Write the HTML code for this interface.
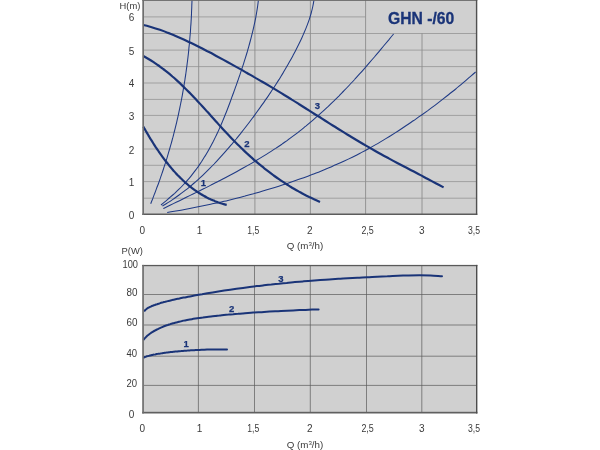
<!DOCTYPE html>
<html><head><meta charset="utf-8"><title>GHN -/60</title>
<style>html,body{margin:0;padding:0;background:#fff}body{width:600px;height:450px;overflow:hidden}svg{display:block}</style>
</head><body>
<svg width="600" height="450" viewBox="0 0 600 450" font-family="Liberation Sans, Arial, sans-serif">
<rect width="600" height="450" fill="#fff"/>
<rect x="143" y="0" width="334" height="214.5" fill="#d0d0d0"/>
<path d="M144,198.20H476 M144,181.60H476 M144,165.30H476 M144,149.00H476 M144,132.30H476 M144,115.40H476 M144,99.40H476 M144,83.00H476 M144,66.60H476 M144,50.10H476 M144,33.50H476 M144,16.90H365.5" stroke="#a0a0a0" stroke-width="1" fill="none"/>
<path d="M198.7,0V214.5 M254.9,0V214.5 M310.4,0V214.5 M365.6,0V214.5 M422.0,33.3V214.5" stroke="#8c8c8c" stroke-width="0.9" fill="none"/>
<path d="M150.7,203.7 C151.0,202.9 152.0,200.4 152.7,198.7 C153.3,197.1 154.0,195.4 154.6,193.7 C155.3,192.0 155.9,190.4 156.5,188.7 C157.1,187.0 157.8,185.3 158.4,183.7 C159.0,182.0 159.6,180.3 160.2,178.6 C160.8,176.9 161.3,175.2 161.9,173.6 C162.5,171.9 163.1,170.2 163.6,168.5 C164.2,166.8 164.7,165.1 165.3,163.4 C165.8,161.7 166.3,160.0 166.9,158.3 C167.4,156.5 167.9,154.8 168.4,153.1 C168.9,151.4 169.4,149.7 169.9,148.0 C170.4,146.3 170.9,144.5 171.4,142.8 C171.9,141.1 172.3,139.4 172.8,137.7 C173.2,135.9 173.7,134.2 174.1,132.5 C174.6,130.7 175.0,129.0 175.4,127.3 C175.9,125.5 176.3,123.8 176.7,122.1 C177.1,120.3 177.5,118.6 177.9,116.8 C178.3,115.1 178.7,113.4 179.0,111.6 C179.4,109.9 179.8,108.1 180.1,106.4 C180.5,104.6 180.8,102.9 181.2,101.1 C181.5,99.4 181.9,97.6 182.2,95.9 C182.5,94.1 182.8,92.3 183.1,90.6 C183.4,88.8 183.7,87.1 184.0,85.3 C184.3,83.5 184.6,81.8 184.9,80.0 C185.1,78.3 185.4,76.5 185.7,74.7 C185.9,73.0 186.2,71.2 186.4,69.4 C186.7,67.6 186.9,65.9 187.1,64.1 C187.3,62.3 187.6,60.6 187.8,58.8 C188.0,57.0 188.2,55.2 188.4,53.5 C188.6,51.7 188.8,49.9 188.9,48.1 C189.1,46.4 189.3,44.6 189.5,42.8 C189.6,41.0 189.8,39.2 189.9,37.5 C190.1,35.7 190.2,33.9 190.4,32.1 C190.5,30.3 190.6,28.6 190.7,26.8 C190.9,25.0 191.0,23.2 191.1,21.4 C191.2,19.6 191.3,17.9 191.4,16.1 C191.5,14.3 191.5,12.5 191.6,10.7 C191.7,8.9 191.8,7.1 191.8,5.4 C191.9,3.6 192.0,0.9 192.0,-0.0" stroke="#1f3a85" stroke-width="1.05" fill="none"/>
<path d="M161.0,205.0 C161.8,204.3 164.1,202.4 165.7,201.1 C167.2,199.8 168.7,198.6 170.2,197.2 C171.7,195.9 173.2,194.6 174.7,193.3 C176.1,192.0 177.6,190.6 179.0,189.2 C180.4,187.9 181.8,186.5 183.1,185.0 C184.5,183.6 185.8,182.2 187.1,180.7 C188.4,179.2 189.7,177.7 191.0,176.1 C192.2,174.6 193.4,173.0 194.6,171.4 C195.8,169.9 197.0,168.2 198.2,166.6 C199.3,165.0 200.4,163.3 201.5,161.7 C202.6,160.0 203.7,158.3 204.7,156.6 C205.8,155.0 206.8,153.3 207.8,151.5 C208.7,149.8 209.7,148.1 210.6,146.4 C211.6,144.6 212.5,142.9 213.4,141.2 C214.3,139.4 215.2,137.6 216.0,135.9 C216.9,134.1 217.7,132.3 218.5,130.6 C219.3,128.8 220.1,127.0 220.9,125.2 C221.7,123.4 222.4,121.6 223.2,119.8 C224.0,117.9 224.7,116.1 225.4,114.3 C226.2,112.5 226.9,110.6 227.6,108.8 C228.3,106.9 229.0,105.1 229.7,103.2 C230.4,101.4 231.1,99.5 231.7,97.6 C232.4,95.8 233.1,93.9 233.8,92.0 C234.5,90.2 235.1,88.3 235.8,86.4 C236.5,84.5 237.1,82.6 237.8,80.7 C238.5,78.8 239.1,76.9 239.8,75.0 C240.4,73.1 241.1,71.2 241.7,69.3 C242.3,67.4 243.0,65.5 243.6,63.6 C244.2,61.7 244.8,59.7 245.4,57.8 C246.0,55.9 246.6,54.0 247.2,52.0 C247.7,50.1 248.3,48.2 248.8,46.3 C249.4,44.3 249.9,42.4 250.4,40.5 C250.9,38.6 251.4,36.6 251.9,34.7 C252.4,32.8 252.9,30.8 253.3,28.9 C253.8,27.0 254.2,25.0 254.6,23.1 C255.0,21.2 255.4,19.3 255.8,17.3 C256.1,15.4 256.5,13.5 256.8,11.5 C257.1,9.6 257.4,7.7 257.7,5.8 C257.9,3.9 258.3,1.0 258.4,0.0" stroke="#1f3a85" stroke-width="1.05" fill="none"/>
<path d="M162.4,206.0 C163.4,205.4 166.3,203.6 168.3,202.4 C170.2,201.2 172.1,199.9 173.9,198.7 C175.8,197.4 177.6,196.1 179.4,194.8 C181.3,193.5 183.0,192.1 184.8,190.7 C186.5,189.4 188.3,188.0 190.0,186.6 C191.7,185.2 193.4,183.7 195.0,182.3 C196.7,180.8 198.3,179.4 199.9,177.9 C201.6,176.4 203.2,174.9 204.7,173.3 C206.3,171.8 207.9,170.3 209.5,168.7 C211.0,167.1 212.5,165.6 214.1,164.0 C215.6,162.4 217.1,160.8 218.6,159.1 C220.1,157.5 221.6,155.9 223.1,154.2 C224.6,152.6 226.1,150.9 227.5,149.2 C229.0,147.5 230.4,145.8 231.9,144.1 C233.3,142.4 234.7,140.7 236.2,139.0 C237.6,137.3 239.0,135.5 240.4,133.8 C241.8,132.0 243.2,130.3 244.5,128.5 C245.9,126.7 247.3,124.9 248.6,123.2 C250.0,121.4 251.4,119.6 252.7,117.8 C254.0,116.0 255.4,114.2 256.7,112.3 C258.0,110.5 259.3,108.7 260.6,106.9 C261.9,105.1 263.2,103.2 264.5,101.4 C265.8,99.6 267.0,97.7 268.3,95.9 C269.5,94.0 270.8,92.2 272.0,90.3 C273.3,88.5 274.5,86.6 275.7,84.7 C276.9,82.8 278.1,80.9 279.3,79.1 C280.5,77.2 281.6,75.3 282.8,73.4 C283.9,71.4 285.1,69.5 286.2,67.6 C287.3,65.7 288.4,63.7 289.5,61.8 C290.6,59.9 291.7,57.9 292.8,55.9 C293.8,54.0 294.9,52.0 295.9,50.0 C296.9,48.0 297.9,46.0 298.9,44.0 C299.9,42.0 300.9,40.0 301.8,38.0 C302.7,35.9 303.6,33.9 304.5,31.8 C305.4,29.8 306.2,27.7 307.0,25.6 C307.8,23.6 308.6,21.5 309.3,19.4 C310.0,17.2 310.6,15.1 311.2,13.0 C311.8,10.9 312.3,8.7 312.8,6.5 C313.3,4.4 313.8,1.1 314.0,0.0" stroke="#1f3a85" stroke-width="1.05" fill="none"/>
<path d="M163.3,208.6 C164.4,208.1 167.8,206.4 170.0,205.3 C172.2,204.2 174.5,203.1 176.7,202.0 C179.0,200.9 181.2,199.8 183.4,198.7 C185.7,197.6 187.9,196.5 190.2,195.4 C192.4,194.3 194.7,193.2 196.9,192.1 C199.2,191.0 201.4,189.9 203.6,188.8 C205.9,187.7 208.1,186.5 210.4,185.4 C212.6,184.3 214.8,183.1 217.1,182.0 C219.3,180.9 221.5,179.7 223.8,178.5 C226.0,177.4 228.2,176.2 230.4,175.0 C232.6,173.9 234.8,172.7 237.0,171.5 C239.2,170.3 241.4,169.1 243.6,167.8 C245.8,166.6 248.0,165.4 250.1,164.1 C252.3,162.9 254.5,161.6 256.6,160.3 C258.8,159.0 260.9,157.7 263.0,156.4 C265.2,155.1 267.3,153.8 269.4,152.4 C271.5,151.1 273.6,149.7 275.7,148.4 C277.7,147.0 279.8,145.6 281.9,144.2 C283.9,142.7 286.0,141.3 288.0,139.8 C290.0,138.4 292.0,136.9 294.0,135.4 C296.0,133.9 298.0,132.4 299.9,130.8 C301.9,129.3 303.8,127.7 305.8,126.1 C307.7,124.5 309.6,122.9 311.5,121.3 C313.4,119.7 315.3,118.0 317.2,116.4 C319.1,114.7 320.9,113.1 322.8,111.4 C324.6,109.7 326.5,108.0 328.3,106.3 C330.1,104.5 331.9,102.8 333.7,101.1 C335.5,99.3 337.3,97.5 339.1,95.8 C340.8,94.0 342.6,92.2 344.3,90.4 C346.1,88.6 347.8,86.8 349.5,85.0 C351.2,83.2 352.9,81.3 354.6,79.5 C356.3,77.6 358.0,75.8 359.6,73.9 C361.3,72.1 363.0,70.2 364.6,68.3 C366.3,66.5 367.9,64.6 369.5,62.7 C371.1,60.8 372.7,58.9 374.4,57.0 C376.0,55.1 377.6,53.2 379.2,51.3 C380.8,49.4 382.4,47.4 384.0,45.5 C385.6,43.6 387.2,41.7 388.8,39.8 C390.4,37.8 392.8,34.9 393.6,34.0" stroke="#1f3a85" stroke-width="1.05" fill="none"/>
<path d="M167.2,212.4 C168.6,212.2 173.0,211.5 175.9,211.0 C178.8,210.5 181.7,210.0 184.6,209.4 C187.5,208.9 190.4,208.4 193.3,207.8 C196.2,207.3 199.1,206.7 202.0,206.1 C204.9,205.5 207.8,204.9 210.6,204.3 C213.5,203.7 216.4,203.0 219.3,202.4 C222.1,201.7 225.0,201.1 227.9,200.4 C230.7,199.7 233.6,199.0 236.5,198.3 C239.3,197.6 242.2,196.8 245.0,196.1 C247.8,195.3 250.7,194.5 253.5,193.8 C256.3,193.0 259.2,192.2 262.0,191.3 C264.8,190.5 267.6,189.7 270.4,188.8 C273.2,188.0 276.0,187.1 278.8,186.2 C281.6,185.3 284.4,184.4 287.2,183.5 C290.0,182.5 292.7,181.6 295.5,180.6 C298.3,179.7 301.0,178.7 303.8,177.7 C306.5,176.7 309.3,175.6 312.0,174.6 C314.7,173.5 317.5,172.5 320.2,171.4 C322.9,170.3 325.6,169.2 328.3,168.1 C331.0,166.9 333.7,165.8 336.3,164.6 C339.0,163.4 341.7,162.2 344.3,161.0 C347.0,159.7 349.6,158.5 352.3,157.2 C354.9,155.9 357.5,154.6 360.1,153.2 C362.8,151.8 365.4,150.5 368.0,149.0 C370.5,147.6 373.1,146.1 375.7,144.6 C378.3,143.2 380.8,141.6 383.4,140.1 C385.9,138.6 388.4,137.0 391.0,135.5 C393.5,133.9 396.0,132.3 398.5,130.7 C401.0,129.1 403.5,127.5 405.9,125.8 C408.4,124.2 410.8,122.5 413.3,120.8 C415.7,119.1 418.2,117.5 420.6,115.7 C423.0,114.0 425.4,112.3 427.8,110.6 C430.2,108.8 432.5,107.1 434.9,105.3 C437.2,103.5 439.6,101.7 441.9,99.9 C444.2,98.1 446.5,96.3 448.8,94.5 C451.1,92.7 453.4,90.8 455.7,89.0 C457.9,87.1 460.2,85.3 462.4,83.4 C464.6,81.5 466.8,79.6 469.0,77.7 C471.2,75.8 474.5,73.0 475.6,72.0" stroke="#1f3a85" stroke-width="1.05" fill="none"/>
<path d="M143.3,25.0 C144.7,25.3 148.9,26.4 151.7,27.2 C154.4,28.0 157.2,28.9 159.9,29.8 C162.7,30.8 165.4,31.8 168.1,32.9 C170.8,33.9 173.5,35.1 176.2,36.2 C178.9,37.4 181.6,38.6 184.3,39.8 C187.0,41.1 189.6,42.3 192.3,43.6 C194.9,44.9 197.6,46.2 200.2,47.5 C202.8,48.9 205.4,50.2 208.0,51.6 C210.7,52.9 213.3,54.3 215.8,55.7 C218.4,57.1 221.0,58.5 223.6,59.9 C226.2,61.3 228.7,62.7 231.3,64.1 C233.9,65.6 236.4,67.0 239.0,68.4 C241.5,69.9 244.1,71.3 246.6,72.7 C249.1,74.2 251.7,75.6 254.2,77.1 C256.7,78.5 259.2,80.0 261.8,81.5 C264.3,82.9 266.8,84.4 269.3,85.9 C271.8,87.4 274.3,88.9 276.8,90.4 C279.3,91.9 281.8,93.4 284.3,95.0 C286.8,96.5 289.3,98.0 291.8,99.6 C294.3,101.1 296.7,102.7 299.2,104.3 C301.7,105.8 304.2,107.4 306.7,109.0 C309.2,110.5 311.6,112.1 314.1,113.7 C316.6,115.3 319.1,116.8 321.6,118.4 C324.1,120.0 326.5,121.5 329.0,123.1 C331.5,124.7 334.0,126.2 336.5,127.8 C339.0,129.3 341.5,130.9 343.9,132.4 C346.4,133.9 348.9,135.5 351.4,137.0 C353.9,138.5 356.4,140.0 358.9,141.5 C361.4,143.0 363.9,144.5 366.4,145.9 C369.0,147.4 371.5,148.8 374.0,150.2 C376.5,151.7 379.0,153.1 381.6,154.5 C384.1,155.9 386.6,157.2 389.2,158.6 C391.7,160.0 394.3,161.4 396.8,162.7 C399.4,164.1 401.9,165.4 404.5,166.8 C407.1,168.1 409.6,169.5 412.2,170.8 C414.8,172.2 417.4,173.5 420.0,174.9 C422.6,176.3 425.2,177.6 427.8,179.0 C430.4,180.4 433.1,181.8 435.7,183.2 C438.3,184.6 442.3,186.7 443.6,187.4" stroke="#1a3478" stroke-width="2.2" fill="none" stroke-linecap="butt"/>
<path d="M143.3,56.0 C144.2,56.5 146.8,58.0 148.5,59.0 C150.2,60.0 151.9,61.1 153.6,62.2 C155.2,63.3 156.9,64.4 158.5,65.5 C160.1,66.7 161.7,67.8 163.2,69.0 C164.8,70.2 166.3,71.4 167.9,72.7 C169.4,73.9 170.9,75.2 172.4,76.5 C173.9,77.7 175.3,79.0 176.8,80.4 C178.2,81.7 179.7,83.0 181.1,84.4 C182.5,85.7 183.9,87.1 185.3,88.5 C186.7,89.8 188.1,91.2 189.5,92.6 C190.9,94.0 192.2,95.5 193.6,96.9 C194.9,98.3 196.3,99.7 197.6,101.2 C199.0,102.6 200.3,104.1 201.6,105.5 C203.0,107.0 204.3,108.4 205.6,109.9 C206.9,111.4 208.3,112.8 209.6,114.3 C210.9,115.8 212.2,117.2 213.6,118.7 C214.9,120.2 216.2,121.7 217.5,123.1 C218.8,124.6 220.2,126.1 221.5,127.5 C222.8,129.0 224.2,130.4 225.5,131.9 C226.9,133.3 228.2,134.8 229.6,136.2 C230.9,137.6 232.3,139.1 233.7,140.5 C235.1,141.9 236.5,143.3 237.9,144.7 C239.3,146.1 240.7,147.4 242.1,148.8 C243.5,150.2 245.0,151.5 246.4,152.9 C247.9,154.2 249.3,155.5 250.8,156.9 C252.3,158.2 253.7,159.5 255.2,160.8 C256.7,162.0 258.2,163.3 259.8,164.6 C261.3,165.8 262.8,167.1 264.3,168.3 C265.9,169.5 267.4,170.7 269.0,171.9 C270.6,173.1 272.2,174.3 273.7,175.5 C275.3,176.6 276.9,177.8 278.6,178.9 C280.2,180.0 281.8,181.1 283.5,182.2 C285.1,183.3 286.8,184.3 288.4,185.4 C290.1,186.4 291.8,187.5 293.5,188.5 C295.2,189.5 296.9,190.5 298.6,191.4 C300.4,192.4 302.1,193.3 303.8,194.3 C305.6,195.2 307.4,196.1 309.2,197.0 C310.9,197.8 312.7,198.7 314.5,199.5 C316.4,200.4 319.1,201.6 320.0,202.0" stroke="#1a3478" stroke-width="2.2" fill="none" stroke-linecap="butt"/>
<path d="M143.3,126.6 C143.6,127.0 144.3,128.3 144.8,129.2 C145.3,130.0 145.8,130.9 146.3,131.7 C146.7,132.6 147.3,133.5 147.8,134.3 C148.3,135.2 148.8,136.0 149.3,136.9 C149.8,137.7 150.3,138.6 150.9,139.5 C151.4,140.3 151.9,141.2 152.5,142.0 C153.0,142.9 153.5,143.7 154.1,144.6 C154.6,145.4 155.2,146.3 155.7,147.1 C156.3,148.0 156.9,148.8 157.4,149.7 C158.0,150.5 158.6,151.3 159.1,152.2 C159.7,153.0 160.3,153.9 160.9,154.7 C161.5,155.5 162.1,156.3 162.7,157.2 C163.3,158.0 163.9,158.8 164.5,159.6 C165.1,160.4 165.7,161.2 166.4,162.0 C167.0,162.8 167.6,163.6 168.3,164.4 C168.9,165.2 169.5,166.0 170.2,166.8 C170.8,167.5 171.5,168.3 172.2,169.1 C172.8,169.9 173.5,170.6 174.2,171.4 C174.8,172.1 175.5,172.9 176.2,173.6 C176.9,174.3 177.6,175.1 178.3,175.8 C179.0,176.5 179.7,177.2 180.4,177.9 C181.2,178.6 181.9,179.3 182.6,180.0 C183.3,180.7 184.1,181.4 184.8,182.1 C185.6,182.7 186.3,183.4 187.1,184.0 C187.8,184.7 188.6,185.3 189.4,186.0 C190.2,186.6 190.9,187.2 191.7,187.8 C192.5,188.4 193.3,189.0 194.1,189.6 C194.9,190.2 195.7,190.8 196.6,191.3 C197.4,191.9 198.2,192.4 199.0,193.0 C199.9,193.5 200.7,194.0 201.6,194.5 C202.4,195.1 203.3,195.6 204.2,196.0 C205.0,196.5 205.9,197.0 206.8,197.5 C207.7,197.9 208.6,198.4 209.5,198.8 C210.4,199.2 211.3,199.6 212.2,200.0 C213.1,200.4 214.1,200.8 215.0,201.2 C216.0,201.6 216.9,201.9 217.9,202.3 C218.8,202.6 219.8,202.9 220.8,203.3 C221.7,203.6 222.7,203.9 223.7,204.1 C224.7,204.4 226.2,204.8 226.7,204.9" stroke="#1a3478" stroke-width="2.2" fill="none" stroke-linecap="butt"/>
<rect x="142.3" y="0" width="335" height="0.9" fill="#6a6a6a"/><rect x="142.3" y="213.5" width="335" height="1.5" fill="#5c5c5c"/><rect x="142.3" y="0" width="1.7" height="215" fill="#6e6e6e"/><rect x="475.9" y="0" width="1.4" height="215" fill="#505050"/>
<rect x="143" y="265" width="334" height="148" fill="#d0d0d0"/>
<path d="M144,294.5H476 M144,325H476 M144,356.2H476 M144,385.4H476 M198.4,266V412 M254.5,266V412 M310.3,266V412 M366.5,266V412 M421.8,266V412" stroke="#5a5a5a" stroke-width="0.7" fill="none"/>
<path d="M144.7,310.7 C144.8,310.6 145.2,310.1 145.5,309.9 C145.8,309.6 146.1,309.3 146.5,309.0 C146.8,308.8 147.2,308.5 147.7,308.2 C148.1,307.9 148.6,307.7 149.1,307.4 C149.6,307.1 150.2,306.9 150.8,306.6 C151.4,306.3 152.0,306.0 152.7,305.8 C153.3,305.5 154.0,305.2 154.8,305.0 C155.5,304.7 156.3,304.4 157.1,304.2 C157.9,303.9 158.7,303.6 159.6,303.4 C160.5,303.1 161.4,302.8 162.4,302.6 C163.3,302.3 164.3,302.0 165.3,301.8 C166.4,301.5 167.4,301.2 168.5,300.9 C169.7,300.7 170.8,300.4 172.0,300.1 C173.1,299.9 174.4,299.6 175.6,299.3 C176.9,299.0 178.1,298.8 179.5,298.5 C180.8,298.2 182.2,297.9 183.6,297.6 C185.0,297.4 186.4,297.1 187.9,296.8 C189.3,296.5 190.8,296.2 192.4,295.9 C193.9,295.7 195.5,295.4 197.1,295.1 C198.7,294.8 200.4,294.5 202.1,294.2 C203.8,293.9 205.5,293.6 207.3,293.3 C209.0,293.0 210.8,292.7 212.7,292.4 C214.5,292.1 216.4,291.8 218.3,291.5 C220.2,291.2 222.2,290.9 224.2,290.6 C226.1,290.3 228.2,290.0 230.2,289.7 C232.3,289.4 234.4,289.1 236.5,288.8 C238.6,288.5 240.8,288.2 243.0,287.9 C245.2,287.6 247.5,287.3 249.7,287.0 C252.0,286.7 254.3,286.4 256.7,286.1 C259.0,285.9 261.4,285.6 263.9,285.3 C266.3,285.0 268.8,284.7 271.3,284.5 C273.8,284.2 276.3,283.9 278.9,283.7 C281.4,283.4 284.1,283.1 286.7,282.9 C289.3,282.6 292.0,282.4 294.8,282.1 C297.5,281.9 300.2,281.7 303.0,281.4 C305.8,281.2 308.7,281.0 311.5,280.7 C314.4,280.5 317.3,280.3 320.2,280.1 C323.2,279.9 326.2,279.7 329.2,279.4 C332.2,279.2 335.2,279.0 338.3,278.8 C341.4,278.6 344.5,278.5 347.7,278.3 C350.9,278.1 354.1,277.9 357.3,277.7 C360.5,277.5 363.8,277.4 367.1,277.2 C370.4,277.0 373.8,276.9 377.1,276.7 C380.5,276.6 383.9,276.4 387.4,276.3 C390.9,276.1 394.4,276.0 397.9,275.8 C401.4,275.7 405.0,275.5 408.6,275.4 C412.2,275.3 415.8,275.2 419.5,275.2 C423.2,275.2 426.9,275.3 430.6,275.4 C434.4,275.6 440.1,276.1 442.0,276.2" stroke="#1a3478" stroke-width="2" fill="none" stroke-linecap="round"/>
<path d="M143.8,339.5 C143.9,339.4 144.2,339.0 144.4,338.7 C144.6,338.5 144.8,338.2 145.1,337.9 C145.3,337.6 145.6,337.4 145.9,337.1 C146.2,336.8 146.5,336.5 146.8,336.2 C147.1,335.9 147.5,335.6 147.9,335.3 C148.2,335.0 148.6,334.6 149.1,334.3 C149.5,334.0 149.9,333.7 150.4,333.4 C150.8,333.1 151.3,332.7 151.8,332.4 C152.3,332.1 152.8,331.8 153.4,331.5 C153.9,331.1 154.5,330.8 155.1,330.5 C155.6,330.2 156.3,329.8 156.9,329.5 C157.5,329.2 158.2,328.9 158.8,328.6 C159.5,328.3 160.2,327.9 160.9,327.6 C161.6,327.3 162.3,327.0 163.1,326.7 C163.8,326.4 164.6,326.1 165.4,325.8 C166.2,325.5 167.0,325.2 167.8,325.0 C168.7,324.7 169.5,324.4 170.4,324.1 C171.3,323.9 172.2,323.6 173.1,323.3 C174.0,323.1 174.9,322.8 175.9,322.6 C176.9,322.3 177.8,322.1 178.8,321.8 C179.8,321.6 180.9,321.4 181.9,321.1 C183.0,320.9 184.0,320.7 185.1,320.4 C186.2,320.2 187.3,320.0 188.4,319.8 C189.5,319.6 190.7,319.4 191.9,319.2 C193.0,319.0 194.2,318.8 195.4,318.6 C196.6,318.4 197.9,318.2 199.1,318.0 C200.4,317.8 201.6,317.6 202.9,317.5 C204.2,317.3 205.5,317.1 206.9,316.9 C208.2,316.8 209.6,316.6 211.0,316.4 C212.3,316.3 213.7,316.1 215.1,315.9 C216.6,315.8 218.0,315.6 219.5,315.5 C220.9,315.3 222.4,315.2 223.9,315.0 C225.4,314.9 226.9,314.7 228.5,314.6 C230.0,314.4 231.6,314.3 233.2,314.2 C234.8,314.0 236.4,313.9 238.0,313.8 C239.6,313.6 241.3,313.5 242.9,313.4 C244.6,313.2 246.3,313.1 248.0,313.0 C249.7,312.9 251.4,312.8 253.2,312.6 C254.9,312.5 256.7,312.4 258.5,312.3 C260.3,312.2 262.1,312.1 264.0,311.9 C265.8,311.8 267.7,311.7 269.5,311.6 C271.4,311.5 273.3,311.4 275.2,311.3 C277.1,311.2 279.1,311.1 281.0,311.0 C283.0,310.9 285.0,310.8 287.0,310.7 C289.0,310.6 291.0,310.5 293.1,310.4 C295.1,310.3 297.2,310.2 299.3,310.1 C301.3,310.0 303.5,310.0 305.6,309.9 C307.7,309.8 309.9,309.7 312.0,309.6 C314.2,309.5 317.5,309.4 318.6,309.4" stroke="#1a3478" stroke-width="2" fill="none" stroke-linecap="round"/>
<path d="M144.0,357.4 C144.1,357.4 144.2,357.3 144.4,357.2 C144.5,357.2 144.6,357.1 144.8,357.0 C144.9,357.0 145.1,356.9 145.2,356.9 C145.4,356.8 145.6,356.7 145.8,356.7 C146.0,356.6 146.2,356.5 146.4,356.5 C146.6,356.4 146.8,356.3 147.0,356.3 C147.2,356.2 147.5,356.1 147.7,356.1 C147.9,356.0 148.2,355.9 148.4,355.9 C148.7,355.8 149.0,355.7 149.2,355.7 C149.5,355.6 149.8,355.5 150.1,355.4 C150.4,355.4 150.7,355.3 151.0,355.2 C151.3,355.2 151.7,355.1 152.0,355.0 C152.3,354.9 152.7,354.9 153.0,354.8 C153.4,354.7 153.7,354.6 154.1,354.6 C154.5,354.5 154.9,354.4 155.2,354.4 C155.6,354.3 156.0,354.2 156.4,354.1 C156.8,354.1 157.3,354.0 157.7,353.9 C158.1,353.8 158.6,353.8 159.0,353.7 C159.4,353.6 159.9,353.5 160.4,353.5 C160.8,353.4 161.3,353.3 161.8,353.3 C162.3,353.2 162.7,353.1 163.2,353.0 C163.7,353.0 164.3,352.9 164.8,352.8 C165.3,352.7 165.8,352.7 166.4,352.6 C166.9,352.5 167.4,352.5 168.0,352.4 C168.5,352.3 169.1,352.3 169.7,352.2 C170.3,352.1 170.8,352.1 171.4,352.0 C172.0,351.9 172.6,351.9 173.2,351.8 C173.9,351.7 174.5,351.7 175.1,351.6 C175.7,351.5 176.4,351.5 177.0,351.4 C177.7,351.4 178.3,351.3 179.0,351.2 C179.7,351.2 180.3,351.1 181.0,351.1 C181.7,351.0 182.4,350.9 183.1,350.9 C183.8,350.8 184.5,350.8 185.2,350.7 C186.0,350.7 186.7,350.6 187.4,350.6 C188.2,350.5 188.9,350.5 189.7,350.4 C190.4,350.4 191.2,350.3 192.0,350.3 C192.8,350.2 193.5,350.2 194.3,350.2 C195.1,350.1 195.9,350.1 196.8,350.0 C197.6,350.0 198.4,350.0 199.2,349.9 C200.1,349.9 200.9,349.9 201.8,349.8 C202.6,349.8 203.5,349.8 204.3,349.7 C205.2,349.7 206.1,349.7 207.0,349.6 C207.9,349.6 208.8,349.6 209.7,349.6 C210.6,349.6 211.5,349.5 212.4,349.5 C213.3,349.5 214.3,349.5 215.2,349.5 C216.2,349.5 217.1,349.4 218.1,349.4 C219.0,349.4 220.0,349.4 221.0,349.4 C222.0,349.4 223.0,349.4 224.0,349.4 C225.0,349.4 226.5,349.4 227.0,349.4" stroke="#1a3478" stroke-width="2" fill="none" stroke-linecap="round"/>
<rect x="142.2" y="264.9" width="335.2" height="1.3" fill="#5a5a5a"/><rect x="142.2" y="411.8" width="335.2" height="1.7" fill="#606060"/><rect x="142.2" y="264.9" width="1.7" height="148.6" fill="#6e6e6e"/><rect x="476" y="264.9" width="1.4" height="148.6" fill="#4c4c4c"/>
<text x="421.2" y="23.6" font-size="15.7" text-anchor="middle" fill="#1a3478" stroke="#1a3478" stroke-width="0.3" font-weight="bold">GHN -/60</text>
<text x="130" y="8.8" font-size="9.7" text-anchor="middle" fill="#3a3a3a" font-weight="normal" textLength="20.8" lengthAdjust="spacingAndGlyphs">H(m)</text>
<text x="131.5" y="218.5" font-size="10" text-anchor="middle" fill="#3a3a3a" font-weight="normal">0</text>
<text x="131.5" y="186.2" font-size="10" text-anchor="middle" fill="#3a3a3a" font-weight="normal">1</text>
<text x="131.5" y="153.6" font-size="10" text-anchor="middle" fill="#3a3a3a" font-weight="normal">2</text>
<text x="131.5" y="119.8" font-size="10" text-anchor="middle" fill="#3a3a3a" font-weight="normal">3</text>
<text x="131.5" y="87.19999999999999" font-size="10" text-anchor="middle" fill="#3a3a3a" font-weight="normal">4</text>
<text x="131.5" y="54.7" font-size="10" text-anchor="middle" fill="#3a3a3a" font-weight="normal">5</text>
<text x="131.5" y="20.8" font-size="10" text-anchor="middle" fill="#3a3a3a" font-weight="normal">6</text>
<text x="142.3" y="234" font-size="10" text-anchor="middle" fill="#3a3a3a" font-weight="normal">0</text>
<text x="142.3" y="432" font-size="10" text-anchor="middle" fill="#3a3a3a" font-weight="normal">0</text>
<text x="199.5" y="234" font-size="10" text-anchor="middle" fill="#3a3a3a" font-weight="normal">1</text>
<text x="199.5" y="432" font-size="10" text-anchor="middle" fill="#3a3a3a" font-weight="normal">1</text>
<text x="253.2" y="234" font-size="10" text-anchor="middle" fill="#3a3a3a" font-weight="normal" textLength="12" lengthAdjust="spacingAndGlyphs">1,5</text>
<text x="253.2" y="432" font-size="10" text-anchor="middle" fill="#3a3a3a" font-weight="normal" textLength="12" lengthAdjust="spacingAndGlyphs">1,5</text>
<text x="309.9" y="234" font-size="10" text-anchor="middle" fill="#3a3a3a" font-weight="normal">2</text>
<text x="309.9" y="432" font-size="10" text-anchor="middle" fill="#3a3a3a" font-weight="normal">2</text>
<text x="367.6" y="234" font-size="10" text-anchor="middle" fill="#3a3a3a" font-weight="normal" textLength="12.4" lengthAdjust="spacingAndGlyphs">2,5</text>
<text x="367.6" y="432" font-size="10" text-anchor="middle" fill="#3a3a3a" font-weight="normal" textLength="12.4" lengthAdjust="spacingAndGlyphs">2,5</text>
<text x="421.7" y="234" font-size="10" text-anchor="middle" fill="#3a3a3a" font-weight="normal">3</text>
<text x="421.7" y="432" font-size="10" text-anchor="middle" fill="#3a3a3a" font-weight="normal">3</text>
<text x="474" y="234" font-size="10" text-anchor="middle" fill="#3a3a3a" font-weight="normal" textLength="12" lengthAdjust="spacingAndGlyphs">3,5</text>
<text x="474" y="432" font-size="10" text-anchor="middle" fill="#3a3a3a" font-weight="normal" textLength="12" lengthAdjust="spacingAndGlyphs">3,5</text>
<text x="305" y="249" font-size="9.5" text-anchor="middle" fill="#3a3a3a" font-weight="normal" textLength="36.6" lengthAdjust="spacingAndGlyphs">Q (m<tspan font-size="6" dy="-3.2">3</tspan><tspan dy="3.2">/h)</tspan></text>
<text x="305" y="447.7" font-size="9.5" text-anchor="middle" fill="#3a3a3a" font-weight="normal" textLength="36.6" lengthAdjust="spacingAndGlyphs">Q (m<tspan font-size="6" dy="-3.2">3</tspan><tspan dy="3.2">/h)</tspan></text>
<text x="132.3" y="253.6" font-size="9.7" text-anchor="middle" fill="#3a3a3a" font-weight="normal" textLength="21.4" lengthAdjust="spacingAndGlyphs">P(W)</text>
<text x="130.3" y="268.1" font-size="10" text-anchor="middle" fill="#3a3a3a" font-weight="normal" textLength="15.4" lengthAdjust="spacingAndGlyphs">100</text>
<text x="132.1" y="296.1" font-size="10" text-anchor="middle" fill="#3a3a3a" font-weight="normal" textLength="11" lengthAdjust="spacingAndGlyphs">80</text>
<text x="132.1" y="326.1" font-size="10" text-anchor="middle" fill="#3a3a3a" font-weight="normal" textLength="11" lengthAdjust="spacingAndGlyphs">60</text>
<text x="131.8" y="357.1" font-size="10" text-anchor="middle" fill="#3a3a3a" font-weight="normal" textLength="10.6" lengthAdjust="spacingAndGlyphs">40</text>
<text x="131.8" y="387.1" font-size="10" text-anchor="middle" fill="#3a3a3a" font-weight="normal" textLength="10.6" lengthAdjust="spacingAndGlyphs">20</text>
<text x="131.5" y="417.6" font-size="10" text-anchor="middle" fill="#3a3a3a" font-weight="normal">0</text>
<text x="203.4" y="186" font-size="9.5" text-anchor="middle" fill="#1a3478" stroke="#1a3478" stroke-width="0.25" font-weight="bold">1</text>
<text x="247" y="147.2" font-size="9.5" text-anchor="middle" fill="#1a3478" stroke="#1a3478" stroke-width="0.25" font-weight="bold">2</text>
<text x="317.5" y="109.4" font-size="9.5" text-anchor="middle" fill="#1a3478" stroke="#1a3478" stroke-width="0.25" font-weight="bold">3</text>
<text x="186.2" y="347.2" font-size="9.5" text-anchor="middle" fill="#1a3478" stroke="#1a3478" stroke-width="0.25" font-weight="bold">1</text>
<text x="231.6" y="311.5" font-size="9.5" text-anchor="middle" fill="#1a3478" stroke="#1a3478" stroke-width="0.25" font-weight="bold">2</text>
<text x="281" y="282" font-size="9.5" text-anchor="middle" fill="#1a3478" stroke="#1a3478" stroke-width="0.25" font-weight="bold">3</text>
</svg>
</body></html>
